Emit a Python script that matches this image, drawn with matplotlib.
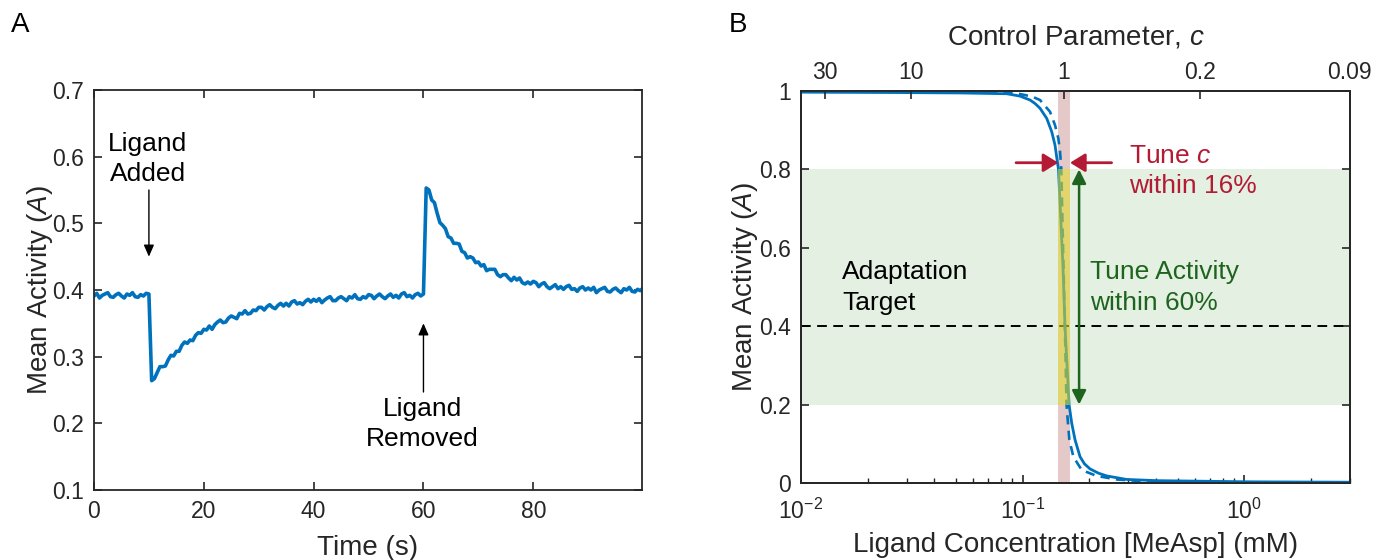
import numpy as np
import matplotlib
matplotlib.use("Agg")
import matplotlib.pyplot as plt
from matplotlib.ticker import NullLocator, FixedLocator

plt.rcParams['font.family'] = ['Liberation Sans', 'DejaVu Sans']
plt.rcParams['mathtext.fontset'] = 'custom'
plt.rcParams['mathtext.rm'] = 'Liberation Sans'
plt.rcParams['mathtext.it'] = 'Liberation Sans:italic'

# ---- panel A: mean activity trace, sampled every 0.5 s ----
time_s = np.arange(0, 100.5, 0.5)
act_before = [0.391, 0.395, 0.388, 0.392, 0.394, 0.396, 0.390, 0.389, 0.393, 0.395,
              0.391, 0.388, 0.394, 0.392, 0.396, 0.390, 0.389, 0.393, 0.391, 0.395,
              0.394]
act_added = [0.264, 0.267, 0.276, 0.285, 0.285, 0.286, 0.295, 0.302, 0.301, 0.308,
             0.308, 0.317, 0.322, 0.320, 0.325, 0.324, 0.332, 0.336, 0.335, 0.341,
             0.340, 0.346, 0.341, 0.348, 0.352, 0.355, 0.351, 0.352, 0.358, 0.361,
             0.359, 0.357, 0.365, 0.364, 0.369, 0.364, 0.365, 0.370, 0.369, 0.374,
             0.374, 0.370, 0.375, 0.378, 0.374, 0.372, 0.377, 0.380, 0.376, 0.380,
             0.376, 0.382, 0.384, 0.379, 0.381, 0.378, 0.383, 0.386, 0.382, 0.386,
             0.383, 0.387, 0.381, 0.385, 0.388, 0.390, 0.384, 0.384, 0.388, 0.390,
             0.387, 0.384, 0.390, 0.388, 0.393, 0.387, 0.386, 0.390, 0.388, 0.393,
             0.392, 0.387, 0.391, 0.394, 0.390, 0.387, 0.391, 0.394, 0.389, 0.392,
             0.388, 0.394, 0.396, 0.390, 0.392, 0.388, 0.393, 0.395, 0.391, 0.394]
act_removed = [0.553, 0.550, 0.535, 0.531, 0.515, 0.501, 0.497, 0.492, 0.480, 0.478,
               0.470, 0.470, 0.469, 0.458, 0.456, 0.448, 0.450, 0.448, 0.441, 0.442,
               0.436, 0.438, 0.429, 0.431, 0.431, 0.431, 0.423, 0.420, 0.423, 0.423,
               0.418, 0.414, 0.419, 0.415, 0.418, 0.411, 0.409, 0.412, 0.409, 0.413,
               0.411, 0.405, 0.409, 0.411, 0.405, 0.402, 0.405, 0.408, 0.402, 0.405,
               0.401, 0.405, 0.407, 0.401, 0.402, 0.398, 0.403, 0.405, 0.400, 0.403,
               0.400, 0.404, 0.396, 0.400, 0.402, 0.404, 0.398, 0.397, 0.401, 0.403,
               0.399, 0.396, 0.402, 0.400, 0.404, 0.398, 0.397, 0.401, 0.399, 0.403]
activity = np.array(act_before + act_added + act_removed)

# ---- panel B: dose response curves ----
lig_solid = [0.0100, 0.0280, 0.0522, 0.0848, 0.0973, 0.1080, 0.1138, 0.1198, 0.1285,
             0.1353, 0.1400, 0.1434, 0.1452, 0.1521, 0.1553, 0.1620, 0.1666, 0.1724,
             0.1816, 0.1900, 0.2014, 0.2200, 0.2396, 0.2950, 0.4029, 1.062, 3.0]
act_solid = [0.997, 0.996, 0.995, 0.993, 0.987, 0.977, 0.968, 0.956, 0.930,
             0.896, 0.862, 0.820, 0.800, 0.550, 0.400, 0.200, 0.152, 0.110,
             0.067, 0.049, 0.036, 0.025, 0.018, 0.009, 0.006, 0.003, 0.002]
lig_dash = [0.0100, 0.0500, 0.0940, 0.1100, 0.1198, 0.1329, 0.1400, 0.1449, 0.1475,
            0.1490, 0.1494, 0.1537, 0.1578, 0.1591, 0.1625, 0.1694, 0.1760, 0.1848,
            0.2160, 0.2659, 0.3387, 1.06, 3.0]
act_dash = [0.999, 0.998, 0.994, 0.986, 0.977, 0.947, 0.913, 0.879, 0.845,
            0.811, 0.800, 0.500, 0.200, 0.173, 0.110, 0.067, 0.052, 0.033,
            0.018, 0.009, 0.005, 0.001, 0.001]

c_tick_ligand = [0.0128, 0.0312, 0.1532, 0.634, 2.985]
c_tick_labels = ['30', '10', '1', '0.2', '0.09']
band_ligand = [0.1449, 0.1636]
target_activity = 0.4
activity_band = [0.2, 0.8]

blue = '#0072BD'
dark = '#262626'
red = '#b31b34'
green = '#1e641e'
tick_fs = 16.5

fig = plt.figure(figsize=(13.87, 5.6), dpi=100)
axA = fig.add_axes([94/1387, 70/560, 548/1387, 400/560])
axB = fig.add_axes([801/1387, 77/560, 549/1387, 392/560])

for ax in (axA, axB):
    for s in ax.spines.values():
        s.set_color(dark)
        s.set_linewidth(1.3)

# ---------- A ----------
axA.plot(time_s, activity, color=blue, lw=2.6)
axA.set_xlim(0, 99.8)
axA.set_ylim(0.1, 0.7)
axA.set_xticks([0, 20, 40, 60, 80])
axA.set_yticks([0.1, 0.2, 0.3, 0.4, 0.5, 0.6, 0.7])
axA.tick_params(direction='in', length=6, width=1.2, top=True, right=True,
                labelsize=tick_fs, color=dark, labelcolor=dark, pad=7)
axA.set_xlabel('Time (s)', fontsize=20, color=dark)
axA.set_ylabel('Mean Activity ($A$)', fontsize=20, color=dark)
axA.xaxis.set_label_coords(0.5, -0.145)
axA.xaxis.label.set_va('center')
axA.yaxis.set_label_coords(-0.0985, 0.5)
axA.yaxis.label.set_va('center')

head_small = '-|>,head_length=0.5,head_width=0.22'
axA.text(9.8, 0.5966, 'Ligand\nAdded', fontsize=19, ha='center', va='center',
         linespacing=1.35)
axA.annotate('', xy=(10, 0.45), xytext=(10, 0.55),
             arrowprops=dict(arrowstyle=head_small, color='k', lw=1,
                             shrinkA=0, shrinkB=0, mutation_scale=14))
axA.text(59.8, 0.199, 'Ligand\nRemoved', fontsize=19, ha='center', va='center',
         linespacing=1.35)
axA.annotate('', xy=(60, 0.350), xytext=(60, 0.247),
             arrowprops=dict(arrowstyle=head_small, color='k', lw=1,
                             shrinkA=0, shrinkB=0, mutation_scale=14))

# ---------- B ----------
axB.set_xscale('log')
axB.axhspan(activity_band[0], activity_band[1], color='#e4f0e2', lw=0, zorder=0)
axB.axvspan(band_ligand[0], band_ligand[1], color='#e5c9c9', lw=0, zorder=1)
axB.axhline(target_activity, color='k', lw=1.4, dashes=(5, 3.3), zorder=2)
axB.plot(lig_solid, act_solid, color=blue, lw=2.0, zorder=3)
axB.plot(lig_dash, act_dash, color=blue, lw=1.9, dashes=(3.5, 2.4), zorder=3)
axB.fill_between(band_ligand, activity_band[0], activity_band[1],
                 color=(0.89, 0.88, 0.14), alpha=0.55, lw=0, zorder=4)

axB.set_xlim(0.01, 3.0)
axB.set_ylim(0, 1)
axB.set_yticks([0, 0.2, 0.4, 0.6, 0.8, 1])
axB.set_yticklabels(['0', '0.2', '0.4', '0.6', '0.8', '1'])
axB.set_xlabel('Ligand Concentration [MeAsp] (mM)', fontsize=20, color=dark)
axB.set_ylabel('Mean Activity ($A$)', fontsize=20, color=dark)
axB.xaxis.set_label_coords(0.5, -0.158)
axB.xaxis.label.set_va('center')
axB.yaxis.set_label_coords(-0.102, 0.5)
axB.yaxis.label.set_va('center')

axT = axB.twiny()
axT.set_xscale('log')
axT.set_xlim(axB.get_xlim())
axT.xaxis.set_major_locator(FixedLocator(c_tick_ligand))
axT.xaxis.set_minor_locator(NullLocator())
axT.set_xticklabels(c_tick_labels)
axT.tick_params(direction='in', length=6, width=1.2, labelsize=tick_fs,
                color=dark, labelcolor=dark, pad=5)
axT.set_xlabel('Control Parameter, $c$', fontsize=20, color=dark)
axT.xaxis.set_label_coords(0.5, 1.138)
axT.xaxis.label.set_va('center')
for s in axT.spines.values():
    s.set_color(dark)
    s.set_linewidth(1.3)

axB.tick_params(which='major', direction='in', length=6, width=1.2, top=False,
                right=True, labelsize=tick_fs, color=dark, labelcolor=dark, pad=7)
axB.tick_params(which='minor', direction='in', length=3.5, width=1.0, top=False,
                color=dark)
axB.tick_params(axis='x', which='major', pad=11)

# annotations
head_big = '-|>,head_length=0.65,head_width=0.4'
axB.annotate('', xy=(band_ligand[0], 0.817), xytext=(0.0934, 0.817),
             arrowprops=dict(arrowstyle=head_big, color=red, lw=2,
                             shrinkA=0, shrinkB=0, mutation_scale=14), zorder=5)
axB.annotate('', xy=(band_ligand[1], 0.817), xytext=(0.252, 0.817),
             arrowprops=dict(arrowstyle=head_big, color=red, lw=2,
                             shrinkA=0, shrinkB=0, mutation_scale=14), zorder=5)
axB.annotate('', xy=(0.1798, activity_band[0]), xytext=(0.1798, activity_band[1]),
             arrowprops=dict(arrowstyle='<|-|>,head_length=0.6,head_width=0.3',
                             color=green, lw=1.8, shrinkA=0, shrinkB=0,
                             mutation_scale=14), zorder=5)
axB.text(0.302, 0.796, 'Tune $c$\nwithin 16%', fontsize=19, color=red,
         ha='left', va='center', linespacing=1.35)
axB.text(0.2013, 0.4985, 'Tune Activity\nwithin 60%', fontsize=19, color=green,
         ha='left', va='center', linespacing=1.35)
axB.text(0.0153, 0.499, 'Adaptation\nTarget', fontsize=19, color='k',
         ha='left', va='center', linespacing=1.35)

fig.text(20/1387, 1 - 25/560, 'A', fontsize=20, ha='center', va='center')
fig.text(738/1387, 1 - 25/560, 'B', fontsize=20, ha='center', va='center')

fig.savefig('out.png', dpi=100)
